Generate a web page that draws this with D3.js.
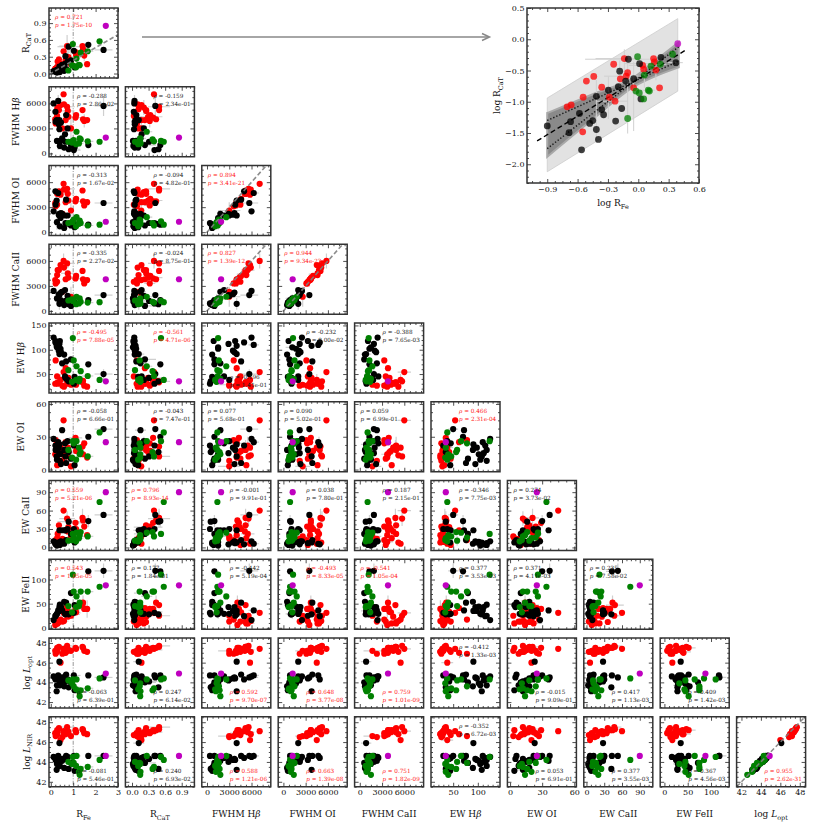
<!DOCTYPE html>
<html>
<head>
<meta charset="utf-8">
<script src="https://cdn.jsdelivr.net/npm/d3@7/dist/d3.min.js"></script>
<style>
  body { margin: 0; background: #fff; }
  text { font-family: "DejaVu Serif", serif; }
</style>
</head>
<body>
<svg id="chart" width="830" height="830"></svg>
<script>
// class of each object: r = red, k = black, g = green, m = magenta
var group = ['r','r','r','r','r','r','r','r','r','r','r','r','r','r','r','r','r','r','r','r','r',
  'k','k','k','k','k','k','k','k','k','k','k','k','k','k','k','k','k','k','k','k','k','k','k','k',
  'g','g','g','g','g','g','g','g','g','g','g','m'];

var rFe = [0.198,0.217,0.285,0.307,0.363,0.435,0.282,0.571,0.728,0.664,0.785,0.759,0.518,0.589,0.900,1.104,1.130,1.416,1.439,1.493,1.622,
  0.126,0.214,0.207,0.262,0.275,0.331,0.355,0.385,0.404,0.385,0.435,0.454,0.506,0.597,0.685,0.635,0.655,0.750,0.798,0.900,1.030,1.062,1.675,2.355,
  0.984,1.334,1.648,2.178,1.148,0.948,1.023,1.256,1.288,1.130,0.785, 2.455];
var rCaT = [0.083,0.089,0.118,0.214,0.254,0.171,0.033,0.398,0.490,0.233,0.291,0.257,0.118,0.102,0.167,0.382,0.331,0.490,0.436,0.321,0.167,
  0.041,0.048,0.032,0.065,0.017,0.045,0.050,0.036,0.025,0.122,0.075,0.062,0.153,0.049,0.078,0.174,0.309,0.214,0.479,0.234,0.407,0.111,0.513,0.422,
  0.525,0.372,0.398,0.575,0.267,0.148,0.138,0.153,0.148,0.111,0.054, 0.851];
var fwhmHb = [4100,3600,5300,5500,5200,5800,4500,7100,5600,4000,4400,5100,3000,5900,3000,4300,4600,5200,4100,3900,4000,
  6000,3800,5000,4000,1500,6300,3500,2900,900,4000,1500,3700,1800,700,4600,2300,1400,3000,500,1000,400,700,1000,5700,
  1500,1700,1450,1400,2600,1300,1600,1200,1800,1100,1400, 1900];
var fwhmOI = [3500,3100,4600,4800,4900,4500,3300,5800,5200,3600,3800,4600,2200,5100,2600,3700,4000,5000,3700,3200,3600,
  2500,3300,4900,3800,1200,4700,2100,2200,700,2000,1700,2300,2200,500,3900,2000,1100,2000,1000,800,1100,600,900,3500,
  1300,1100,800,900,1800,1200,1500,1000,1400,700,1100, 1250];
var fwhmCaII = [3700,3300,4300,4900,4900,5500,3500,6000,5700,3800,4000,4500,2300,5200,1700,3900,4200,4800,3800,3300,3700,
  2400,null,null,null,1500,null,2000,1900,1100,850,1300,2200,2300,700,null,2500,1200,1800,800,600,900,1000,1300,1900,
  1200,1100,1000,1050,1700,1400,1300,900,1500,800,1250, 3800];
var ewHb = [30,78,32,30,33,38,45,54,35,62,42,30,26,24,28,35,28,33,36,26,24,
  125,118,115,108,105,110,98,112,118,91,102,95,72,90,76,45,42,38,35,80,30,44,70,50,
  124,56,46,38,66,34,78,35,40,38,58, 35];
var ewOI = [14,27,4,22,18,20,10,45,12,25,16,20,8,13,3,29,17,21,14,24,11,
  28,18,22,12,9,25,20,15,8,23,14,5,36,18,6,24,12,26,16,10,22,4,30,37,
  26,16,12,34,26,11,24,20,14,9,18, 25];
var ewCaII = [9,12,15,22,36,6,4,60,47,28,33,26,14,8,18,40,30,48,44,34,20,
  10,7,5,8,3,6,8,5,4,28,9,10,28,6,12,28,28,30,42,22,30,8,43,53,
  22,25,18,74,24,12,16,15,20,10,11, 90];
var ewFeII = [6,17,9,9,12,17,13,31,25,41,33,23,13,14,25,39,32,47,52,39,39,
  16,25,24,28,29,36,35,43,48,35,44,43,36,54,52,29,28,29,28,72,31,47,117,118,
  110,75,75,85,65,32,75,45,52,43,45, 88];
var logLopt = [47.2,46.9,47.5,47.3,47.6,46.0,47.1,47.4,47.7,47.0,47.3,47.2,46.9,47.1,47.2,47.5,47.4,47.6,47.5,47.2,47.1,
  44.6,44.4,44.3,43.1,43.7,44.7,44.4,44.2,43.7,46.1,43.9,44.5,44.3,43.6,44.8,44.6,44.1,44.3,43.5,44.0,44.7,43.2,44.7,44.5,
  44.3,43.2,43.4,44.4,44.3,43.9,43.6,43.1,42.6,43.3,44.2, 44.9];
var logLnir = [46.9,46.6,47.2,47.0,47.4,46.2,46.7,47.1,47.5,46.8,47.0,47.1,46.5,46.8,46.6,47.2,47.0,47.3,47.2,46.9,46.8,
  44.5,44.2,44.4,43.2,43.8,44.6,44.2,44.0,43.6,45.9,44.1,44.3,44.1,43.4,44.6,44.4,44.3,44.5,43.3,43.9,44.6,43.1,44.6,44.6,
  44.5,43.3,43.5,44.2,44.6,43.8,43.9,43.0,42.7,43.6,44.0, 44.6];

// measurement errors, only the ones large enough to show: [object index, error]
var errRFe = [[8,0.35],[11,0.3],[13,0.2],[15,0.3],[39,0.5],[41,0.3],[44,0.4],[47,0.25],[52,0.2]];
var errRCaT = [[8,0.2],[10,0.26],[19,0.1],[30,0.1],[33,0.1],[37,0.15],[40,0.2],[49,0.1]];
var errFwhmHb = [[14,1500],[19,800],[44,1200],[3,900],[26,700]];
var errFwhmOI = [[14,1000],[25,900]];
var errFwhmCaII = [[14,1200],[7,900],[50,600],[30,700],[0,800]];
var errEwHb = [[44,10],[5,12]];
var errEwOI = [[3,8],[24,6],[17,6]];
var errEwCaII = [[8,12],[17,15],[43,10],[55,8],[2,6]];
var errEwFeII = [[18,15],[20,18],[44,15],[25,10],[52,12]];
var errLopt = [[5,0.3]];
var errLnir = [];

// Spearman results shown in each lower-triangle panel (row by row)
var rhoText = [
  ['0.721'],
  ['-0.288','-0.159'],
  ['-0.313','-0.094','0.894'],
  ['-0.335','-0.024','0.827','0.944'],
  ['-0.495','-0.561','-0.196','-0.232','-0.388'],
  ['-0.058','-0.043','0.077','0.090','0.059','0.466'],
  ['0.559','0.796','-0.001','0.038','0.187','-0.346','0.274'],
  ['0.543','0.177','-0.442','-0.493','-0.541','0.377','0.371','0.235'],
  ['-0.063','0.247','0.592','0.648','0.759','-0.412','-0.015','0.417','0.409'],
  ['-0.081','0.240','0.588','0.663','0.751','-0.352','0.053','0.377','0.367','0.955']
];
var pText = [
  ['1.75e-10'],
  ['2.86e-02','2.34e-01'],
  ['1.67e-02','4.82e-01','3.41e-21'],
  ['2.27e-02','8.75e-01','1.39e-12','9.34e-23'],
  ['7.88e-05','4.71e-06','1.41e-01','8.00e-02','7.65e-03'],
  ['6.66e-01','7.47e-01','5.68e-01','5.02e-01','6.99e-01','2.31e-04'],
  ['5.21e-06','8.93e-14','9.91e-01','7.80e-01','2.15e-01','7.75e-03','3.73e-02'],
  ['1.05e-05','1.84e-01','5.19e-04','8.33e-05','1.05e-04','3.53e-03','4.11e-03','7.58e-02'],
  ['6.39e-01','6.14e-02','9.70e-07','3.77e-08','1.01e-09','1.33e-03','9.09e-01','1.13e-03','1.42e-03'],
  ['5.46e-01','6.93e-02','1.21e-06','1.39e-08','1.82e-09','6.72e-03','6.91e-01','3.55e-03','4.56e-03','2.62e-31']
];
var statPos = [
  ['tl'],
  ['tr','tr'],
  ['tr','tr','tl'],
  ['tr','tr','tl','tl'],
  ['tr','tr','br','tr','tr'],
  ['tr','tr','tl','tl','tl','tr'],
  ['tl','tl','tr','tr','tr','tr','tl'],
  ['tl','tl','tr','tr','tl','tr','tl','tl'],
  ['br','br','br','br','br','tr','br','br','br'],
  ['br','br','br','br','br','tr','br','br','br','br']
];

// inset: log R_CaT vs log R_Fe fit with its bands
var fitX = [-1.0, 0.48];
var fitY = [-1.627, -0.162];
var slopeLoX = [-0.9, 0.4], slopeLoY = [-1.30, -0.35];
var slopeHiX = [-0.9, 0.4], slopeHiY = [-1.75, -0.12];
var confX = [-0.9, -0.45, -0.035, 0.2, 0.4];
var confHi = [-1.18, -0.88, -0.60, -0.30, -0.05];
var confLo = [-1.88, -1.28, -0.75, -0.57, -0.45];
var predX = [-0.9, 0.39];
var predHi = [-0.94, 0.33];
var predLo = [-2.12, -0.83];
var insetXTicks = [-0.9, -0.6, -0.3, 0.0, 0.3, 0.6];
var insetYTicks = [-2.0, -1.5, -1.0, -0.5, 0.0, 0.5];

var colors = {r: '#ff0000', k: '#000000', g: '#008000', m: '#bf00bf'};

var vars = [
  {v: rFe, e: errRFe, label: [['R'], ['Fe', 'sub']], xDom: [-0.08, 3.0], ticks: [0, 1, 2, 3], minor: 0.2, fmt: 'd'},
  {v: rCaT, e: errRCaT, label: [['R'], ['CaT', 'sub']], xDom: [-0.12, 1.13], yDom: [-0.08, 1.17], ticks: [0, 0.3, 0.6, 0.9], minor: 0.075, fmt: '.1f'},
  {v: fwhmHb, e: errFwhmHb, label: [['FWHM H'], ['\u03b2', 'it']], xDom: [-700, 8600], yDom: [-400, 8000], ticks: [0, 3000, 6000], minor: 750, fmt: 'd'},
  {v: fwhmOI, e: errFwhmOI, label: [['FWHM OI']], xDom: [-700, 8600], yDom: [-400, 8000], ticks: [0, 3000, 6000], minor: 750, fmt: 'd'},
  {v: fwhmCaII, e: errFwhmCaII, label: [['FWHM CaII']], xDom: [-700, 8600], yDom: [-400, 8000], ticks: [0, 3000, 6000], minor: 750, fmt: 'd'},
  {v: ewHb, e: errEwHb, label: [['EW H'], ['\u03b2', 'it']], xDom: [5, 145], yDom: [11, 155], ticks: [50, 100, 150], minor: 10, fmt: 'd'},
  {v: ewOI, e: errEwOI, label: [['EW OI']], xDom: [-2.5, 62], yDom: [-2, 62], ticks: [0, 30, 60], minor: 7.5, fmt: 'd'},
  {v: ewCaII, e: errEwCaII, label: [['EW CaII']], xDom: [-4.5, 112], yDom: [-5, 109], ticks: [0, 30, 60, 90], minor: 7.5, fmt: 'd'},
  {v: ewFeII, e: errEwFeII, label: [['EW FeII']], xDom: [-9, 139], yDom: [-3, 142], ticks: [0, 50, 100], minor: 10, fmt: 'd'},
  {v: logLopt, e: errLopt, label: [['log '], ['L', 'it'], ['opt', 'sub']], xDom: [41.5, 48.6], yDom: [41.4, 48.5], ticks: [42, 44, 46, 48], minor: 0.5, fmt: 'd'},
  {v: logLnir, e: errLnir, label: [['log '], ['L', 'it'], ['NIR', 'sub']], yDom: [41.5, 48.55], ticks: [42, 44, 46, 48], minor: 0.5, fmt: 'd'}
];

// dashed reference lines: "row-col" -> slope through the origin
var refLines = {'0-0': 0.231, '2-2': 1, '3-2': 1, '3-3': 1, '9-9': 1};

var svg = d3.select('#chart');
var pw = 69, ph = 70;
var colX = function(c) { return 49 + c * 76.4; };
var rowY = function(r) { return 8 + r * 78.75; };
var labelX = [25, 15, 15, 15, 20, 20, 25, 25, 26, 26];
var idx = d3.range(group.length);
var order = {r: 0, k: 1, g: 2, m: 3};
idx.sort(function(a, b) { return order[group[a]] - order[group[b]] || a - b; });

function addLabel(text, parts, fs) {
  var shifted = false;
  parts.forEach(function(p) {
    var t = text.append('tspan').text(p[0]);
    if (p[1] === 'sub') {
      t.attr('font-size', fs * 0.72).attr('dy', fs * 0.3);
      shifted = true;
    } else if (shifted) {
      t.attr('dy', -fs * 0.3);
      shifted = false;
    }
    if (p[1] === 'it') t.attr('font-style', 'italic');
  });
}

function minorTicks(dom, step, major) {
  var lo = Math.ceil(dom[0] / step - 1e-9), hi = Math.floor(dom[1] / step + 1e-9);
  return d3.range(lo, hi + 1).map(function(i) { return +(i * step).toFixed(6); })
    .filter(function(t) { return major.every(function(m) { return Math.abs(m - t) > step / 10; }); });
}

function drawAxes(g, x, y, w, h, xt, yt, xm, ym, xfmt, yfmt) {
  var axes = [
    [d3.axisBottom(x).tickValues(xt).tickSizeInner(-4).tickPadding(3).tickFormat(xfmt || ''), 'translate(0,' + h + ')'],
    [d3.axisBottom(x).tickValues(xm).tickSizeInner(-2).tickFormat(''), 'translate(0,' + h + ')'],
    [d3.axisTop(x).tickValues(xt).tickSizeInner(-4).tickFormat(''), null],
    [d3.axisTop(x).tickValues(xm).tickSizeInner(-2).tickFormat(''), null],
    [d3.axisLeft(y).tickValues(yt).tickSizeInner(-4).tickPadding(2.5).tickFormat(yfmt || ''), null],
    [d3.axisLeft(y).tickValues(ym).tickSizeInner(-2).tickFormat(''), null],
    [d3.axisRight(y).tickValues(yt).tickSizeInner(-4).tickFormat(''), 'translate(' + w + ',0)'],
    [d3.axisRight(y).tickValues(ym).tickSizeInner(-2).tickFormat(''), 'translate(' + w + ',0)']
  ];
  axes.forEach(function(a) {
    var ag = g.append('g');
    if (a[1]) ag.attr('transform', a[1]);
    ag.call(a[0].tickSizeOuter(0));
    ag.select('.domain').remove();
    ag.attr('font-family', '"DejaVu Serif", serif').attr('font-size', 8);
    ag.selectAll('line').attr('stroke', '#222').attr('stroke-width', 0.8);
    ag.selectAll('text').attr('fill', '#111');
  });
}

function inDom(dom) { return function(t) { return t >= dom[0] - 1e-9 && t <= dom[1] + 1e-9; }; }

for (var r = 0; r < 10; r++) {
  for (var c = 0; c <= r; c++) {
    var xv = vars[c], yv = vars[r + 1];
    var g = svg.append('g').attr('transform', 'translate(' + colX(c) + ',' + rowY(r) + ')');
    var x = d3.scaleLinear().domain(xv.xDom).range([0, pw]);
    var y = d3.scaleLinear().domain(yv.yDom).range([ph, 0]);
    var cid = 'clip' + r + '_' + c;
    g.append('clipPath').attr('id', cid).append('rect').attr('width', pw).attr('height', ph);
    var plot = g.append('g').attr('clip-path', 'url(#' + cid + ')');

    if (c === 0) {
      plot.append('line').attr('x1', x(1)).attr('x2', x(1)).attr('y1', 0).attr('y2', ph)
        .attr('stroke', '#999').attr('stroke-width', 1).attr('stroke-dasharray', '4,1.5,1,1.5');
    }

    // error bars
    xv.e.forEach(function(d) {
      var i = d[0];
      if (xv.v[i] == null || yv.v[i] == null) return;
      plot.append('line').attr('x1', x(xv.v[i] - d[1])).attr('x2', x(xv.v[i] + d[1]))
        .attr('y1', y(yv.v[i])).attr('y2', y(yv.v[i])).attr('stroke', '#cfcfcf').attr('stroke-width', 1.2);
    });
    yv.e.forEach(function(d) {
      var i = d[0];
      if (xv.v[i] == null || yv.v[i] == null) return;
      plot.append('line').attr('y1', y(yv.v[i] - d[1])).attr('y2', y(yv.v[i] + d[1]))
        .attr('x1', x(xv.v[i])).attr('x2', x(xv.v[i])).attr('stroke', '#cfcfcf').attr('stroke-width', 1.2);
    });

    var pts = idx.filter(function(i) { return xv.v[i] != null && yv.v[i] != null; });
    plot.selectAll('circle').data(pts).enter().append('circle')
      .attr('cx', function(i) { return x(xv.v[i]); })
      .attr('cy', function(i) { return y(yv.v[i]); })
      .attr('r', 3.1)
      .attr('fill', function(i) { return colors[group[i]]; });

    var slope = refLines[r + '-' + c];
    if (slope) {
      plot.append('line').attr('x1', x(xv.xDom[0])).attr('y1', y(slope * xv.xDom[0]))
        .attr('x2', x(xv.xDom[1])).attr('y2', y(slope * xv.xDom[1]))
        .attr('stroke', '#808080').attr('stroke-width', 1.6).attr('stroke-dasharray', '4.5,2.5').attr('opacity', 0.9);
    }

    var xt = xv.ticks.filter(inDom(xv.xDom)), yt = yv.ticks.filter(inDom(yv.yDom));
    drawAxes(g, x, y, pw, ph, xt, yt, minorTicks(xv.xDom, xv.minor, xt), minorTicks(yv.yDom, yv.minor, yt),
      r === 9 ? d3.format(xv.fmt) : null, c === 0 ? d3.format(yv.fmt) : null);

    g.append('rect').attr('width', pw).attr('height', ph).attr('fill', 'none')
      .attr('stroke', '#333').attr('stroke-width', 1.5);

    // correlation text
    var rho = rhoText[r][c], pos = statPos[r][c];
    var sx = pos === 'tl' ? 6 : 28, sy = pos === 'br' ? 56 : 11;
    var tcol = Math.abs(+rho) >= 0.45 ? '#ff2020' : '#1a1a1a';
    var t1 = g.append('text').attr('x', sx).attr('y', sy).attr('font-size', 5.7).attr('fill', tcol);
    t1.append('tspan').attr('font-style', 'italic').text('\u03c1');
    t1.append('tspan').text(' = ' + rho);
    var t2 = g.append('text').attr('x', sx).attr('y', sy + 8).attr('font-size', 5.7).attr('fill', tcol);
    t2.append('tspan').attr('font-style', 'italic').text('p');
    t2.append('tspan').text(' = ' + pText[r][c]);

    if (c === 0) {
      var yl = svg.append('text').attr('font-size', 9).attr('text-anchor', 'middle').attr('fill', '#111')
        .attr('transform', 'translate(' + (labelX[r] + 3.5) + ',' + (rowY(r) + ph / 2) + ') rotate(-90)');
      addLabel(yl, yv.label, 9);
    }
    if (r === 9) {
      var xl = svg.append('text').attr('font-size', 9).attr('text-anchor', 'middle').attr('fill', '#111')
        .attr('x', colX(c) + pw / 2).attr('y', 817);
      addLabel(xl, xv.label, 9);
    }
  }
}

// arrow from the first panel to the inset
svg.append('line').attr('x1', 142).attr('y1', 37).attr('x2', 489).attr('y2', 37)
  .attr('stroke', '#888').attr('stroke-width', 1.5);
svg.append('path').attr('d', 'M482,33.5 L489.5,37 L482,40.5').attr('fill', 'none')
  .attr('stroke', '#888').attr('stroke-width', 1.5);

// inset panel
var iL = 527, iR = 699, iT = 8, iB = 183;
var ix = d3.scaleLinear().domain([-1.1, 0.6]).range([0, iR - iL]);
var iy = d3.scaleLinear().domain([-2.3, 0.5]).range([iB - iT, 0]);
var ig = svg.append('g').attr('transform', 'translate(' + iL + ',' + iT + ')');
ig.append('clipPath').attr('id', 'clipInset').append('rect').attr('width', iR - iL).attr('height', iB - iT);
var ip = ig.append('g').attr('clip-path', 'url(#clipInset)');

var band = d3.area().x(function(d) { return ix(d[0]); }).y0(function(d) { return iy(d[1]); }).y1(function(d) { return iy(d[2]); });
ip.append('path').datum(predX.map(function(v, i) { return [v, predLo[i], predHi[i]]; }))
  .attr('d', band).attr('fill', '#e2e2e2').attr('stroke', '#cdcdcd').attr('stroke-width', 0.8);
ip.append('path').datum(confX.map(function(v, i) { return [v, confLo[i], confHi[i]]; }))
  .attr('d', band.curve(d3.curveMonotoneX)).attr('fill', '#8a8a8a').attr('stroke', '#a8a8a8').attr('stroke-width', 2);

// error bars on log axes
var logLine = function(v, e) { return [Math.log10(Math.max(v - e, v * 0.05)), Math.log10(v + e)]; };
errRFe.forEach(function(d) {
  var i = d[0], ext = logLine(rFe[i], d[1]);
  ip.append('line').attr('x1', ix(ext[0])).attr('x2', ix(ext[1]))
    .attr('y1', iy(Math.log10(rCaT[i]))).attr('y2', iy(Math.log10(rCaT[i])))
    .attr('stroke', '#d0d0d0').attr('stroke-width', 1);
});
errRCaT.forEach(function(d) {
  var i = d[0], ext = logLine(rCaT[i], d[1]);
  ip.append('line').attr('y1', iy(ext[0])).attr('y2', iy(ext[1]))
    .attr('x1', ix(Math.log10(rFe[i]))).attr('x2', ix(Math.log10(rFe[i])))
    .attr('stroke', '#d0d0d0').attr('stroke-width', 1);
});

var seg = d3.line().x(function(d) { return ix(d[0]); }).y(function(d) { return iy(d[1]); });
ip.append('path').datum(slopeLoX.map(function(v, i) { return [v, slopeLoY[i]]; }))
  .attr('d', seg).attr('fill', 'none').attr('stroke', '#111').attr('stroke-width', 1.4).attr('stroke-dasharray', '1.3,2');
ip.append('path').datum(slopeHiX.map(function(v, i) { return [v, slopeHiY[i]]; }))
  .attr('d', seg).attr('fill', 'none').attr('stroke', '#111').attr('stroke-width', 1.4).attr('stroke-dasharray', '1.3,2');
ip.append('path').datum(fitX.map(function(v, i) { return [v, fitY[i]]; }))
  .attr('d', seg).attr('fill', 'none').attr('stroke', '#000').attr('stroke-width', 1.4).attr('stroke-dasharray', '5,3');

ip.selectAll('circle').data(idx).enter().append('circle')
  .attr('cx', function(i) { return ix(Math.log10(rFe[i])); })
  .attr('cy', function(i) { return iy(Math.log10(rCaT[i])); })
  .attr('r', 3.4)
  .attr('fill', function(i) { return colors[group[i]]; })
  .attr('fill-opacity', 0.75);

var fmt1 = d3.format('.1f');
drawAxes(ig, ix, iy, iR - iL, iB - iT, insetXTicks, insetYTicks,
  minorTicks(ix.domain(), 0.075, insetXTicks), minorTicks(iy.domain(), 0.1, insetYTicks), fmt1, fmt1);
ig.append('rect').attr('width', iR - iL).attr('height', iB - iT).attr('fill', 'none')
  .attr('stroke', '#333').attr('stroke-width', 1.5);

var ixl = svg.append('text').attr('font-size', 9).attr('text-anchor', 'middle').attr('fill', '#111')
  .attr('x', (iL + iR) / 2).attr('y', 206);
addLabel(ixl, [['log R'], ['Fe', 'sub']], 9);
var iyl = svg.append('text').attr('font-size', 9).attr('text-anchor', 'middle').attr('fill', '#111')
  .attr('transform', 'translate(500,' + (iT + iB) / 2 + ') rotate(-90)');
addLabel(iyl, [['log R'], ['CaT', 'sub']], 9);
</script>
</body>
</html>
